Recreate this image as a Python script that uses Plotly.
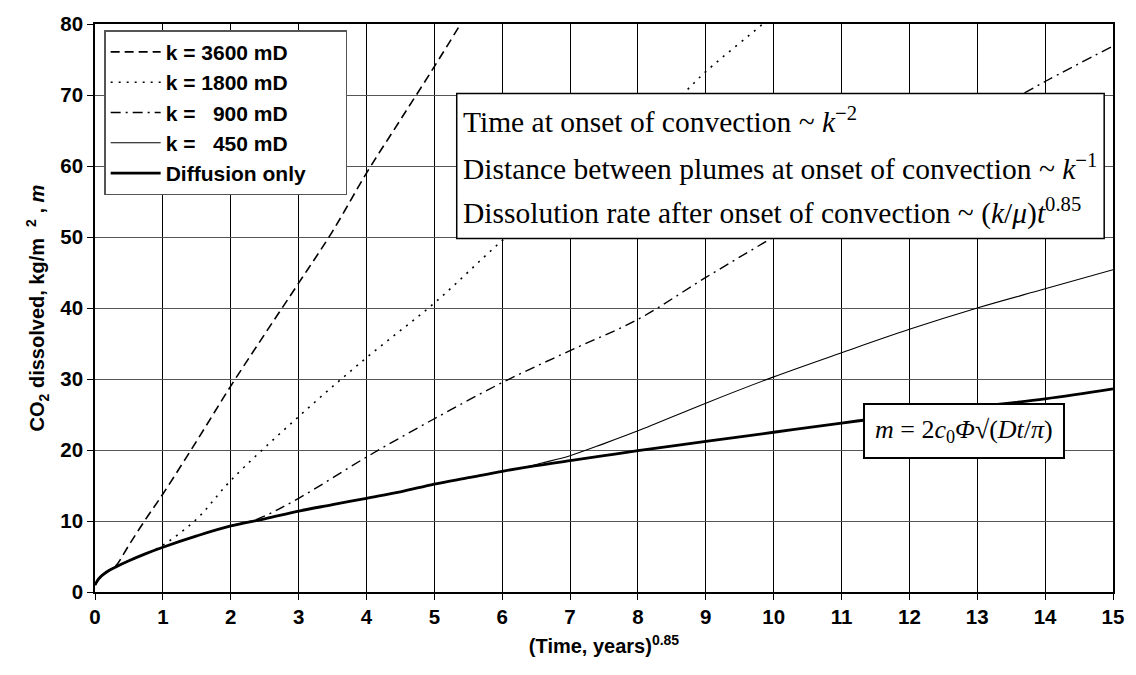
import plotly.graph_objects as go

# ---- data ----
diff_x = [0, 0.05, 0.1, 0.2, 0.3, 0.5, 0.75, 1, 1.5, 2, 2.5, 3, 3.5, 4, 4.5, 5, 5.5, 6, 6.5, 7, 7.5, 8, 9, 10, 11, 12, 13, 14, 15]
diff_y = [1.0, 1.8, 2.3, 3.0, 3.5, 4.4, 5.4, 6.3, 7.9, 9.3, 10.3, 11.4, 12.3, 13.2, 14.1, 15.2, 16.1, 17.0, 17.8, 18.5, 19.2, 19.9, 21.2, 22.5, 23.8, 25.0, 26.1, 27.2, 28.6]

k3600_x = [0, 0.1, 0.2, 0.3, 0.5, 0.75, 1, 1.5, 2, 2.5, 3, 3.5, 4, 4.5, 5, 5.4]
k3600_y = [1.0, 2.3, 3.0, 3.6, 6.6, 10.3, 13.8, 21.3, 29.0, 36.3, 43.5, 50.8, 59.0, 66.5, 74.0, 80.2]

k1800_x = [0, 0.1, 0.2, 0.3, 0.5, 0.75, 1.0, 1.5, 2, 3, 4, 5, 6, 7, 8, 8.64, 9, 9.84, 10]
k1800_y = [1.0, 2.3, 3.0, 3.5, 4.4, 5.4, 6.6, 10.3, 15.7, 24.7, 33.0, 40.7, 49.5, 57.5, 65.5, 70.0, 73.3, 80.0, 81.3]

k900_x = [0, 0.1, 0.2, 0.3, 0.5, 0.75, 1, 1.5, 2, 2.4, 3, 4, 5, 6, 7, 8, 9, 10, 11, 12, 13, 14, 15]
k900_y = [1.0, 2.3, 3.0, 3.5, 4.4, 5.4, 6.3, 7.9, 9.3, 10.3, 13.2, 19.0, 24.4, 29.5, 34.0, 38.4, 44.3, 50.0, 55.5, 61.0, 66.5, 71.9, 76.9]

k450_x = [0, 0.1, 0.2, 0.3, 0.5, 0.75, 1, 1.5, 2, 2.5, 3, 3.5, 4, 4.5, 5, 5.5, 6, 6.3, 6.6, 7, 7.5, 8, 9, 10, 11, 12, 13, 14, 15]
k450_y = [1.0, 2.3, 3.0, 3.5, 4.4, 5.4, 6.3, 7.9, 9.3, 10.3, 11.4, 12.3, 13.2, 14.1, 15.2, 16.1, 17.0, 17.5, 18.2, 19.2, 20.9, 22.7, 26.6, 30.3, 33.7, 37.0, 40.0, 42.7, 45.4]

x_ticks = list(range(0, 16))
y_ticks = list(range(0, 81, 10))

names = ["k = 3600 mD", "k = 1800 mD", "k =   900 mD", "k =   450 mD", "Diffusion only"]

fig = go.Figure()
series = [
    (k3600_x, k3600_y, names[0], dict(color="black", width=1.6, dash="9px,5px")),
    (k1800_x, k1800_y, names[1], dict(color="black", width=1.6, dash="2px,6px")),
    (k900_x, k900_y, names[2], dict(color="black", width=1.4, dash="10px,5px,2px,5px")),
    (k450_x, k450_y, names[3], dict(color="black", width=1.1)),
    (diff_x, diff_y, names[4], dict(color="black", width=2.8)),
]
for i, (xs, ys, nm, ln) in enumerate(series):
    fig.add_trace(go.Scatter(x=xs, y=ys, mode="lines", name=nm + "\u00a0" * 6, line=ln,
                             line_shape="spline", legendgroup=f"g{i}"))

font_b = dict(family="Arial, Liberation Sans, sans-serif", size=20, color="black")

fig.update_layout(
    width=1136, height=675,
    margin=dict(l=95, r=19, t=22, b=83),
    paper_bgcolor="white", plot_bgcolor="white",
    font=dict(family="Arial, Liberation Sans, sans-serif", size=20.5, color="black"),
    showlegend=True,
    legend=dict(x=0.009, y=0.989, xanchor="left", yanchor="top",
                bgcolor="white", bordercolor="#555555", borderwidth=1.5,
                font=dict(family="Arial, Liberation Sans, sans-serif", size=21, color="black", weight="bold"),
                tracegroupgap=0, itemwidth=50),
    xaxis=dict(range=[0, 15], tickvals=x_ticks, ticktext=[f"<b>{v}</b>" for v in x_ticks],
               showgrid=True, gridcolor="black", gridwidth=1,
               showline=True, linecolor="black", linewidth=1.5, mirror=True,
               ticks="outside", ticklen=6, tickcolor="black", zeroline=False,
               title=dict(text="<b>(Time, years)<sup>0.85</sup></b>", font=font_b, standoff=12)),
    yaxis=dict(range=[0, 80], tickvals=y_ticks, ticktext=[f"<b>{v}</b>" for v in y_ticks],
               showgrid=True, gridcolor="#555555", gridwidth=1,
               showline=True, linecolor="black", linewidth=1.5, mirror=True,
               ticks="outside", ticklen=6, tickcolor="black", zeroline=False,
               title=dict(text="<b>CO<sub>2</sub> dissolved, kg/m  <sup>2</sup> , <i>m</i></b>", font=font_b, standoff=10)),
)

# Text box with scaling laws
fig.add_shape(type="rect", xref="x", yref="y", x0=5.33, x1=14.87, y0=49.8, y1=70.2,
              fillcolor="white", line=dict(color="black", width=1.5), layer="above")
serif = dict(family="Liberation Serif, Times New Roman, serif", size=29.5, color="black")
lines = [
    ("Time at onset of convection ~ <i>k</i><sup>\u22122</sup>", 66.5),
    ("Distance between plumes at onset of convection ~ <i>k</i><sup>\u22121</sup>", 59.9),
    ("Dissolution rate after onset of convection ~ (<i>k</i>/<i>\u03bc</i>)<i>t</i><sup>0.85</sup>", 53.6),
]
for txt, yy in lines:
    fig.add_annotation(x=5.40, y=yy, xref="x", yref="y", text=txt, showarrow=False,
                       xanchor="left", yanchor="middle", align="left", font=serif)

# Formula box
fig.add_annotation(x=12.81, y=22.7, xref="x", yref="y",
                   text="<i>m</i> = 2<i>c</i><sub>0</sub><i>\u03a6</i>\u221a(<i>Dt</i>/<i>\u03c0</i>)",
                   showarrow=False, xanchor="center", yanchor="middle",
                   bgcolor="white", bordercolor="black", borderwidth=2, borderpad=10,
                   font=dict(family="Liberation Serif, Times New Roman, serif", size=26, color="black"))

fig.write_html("out.html")
